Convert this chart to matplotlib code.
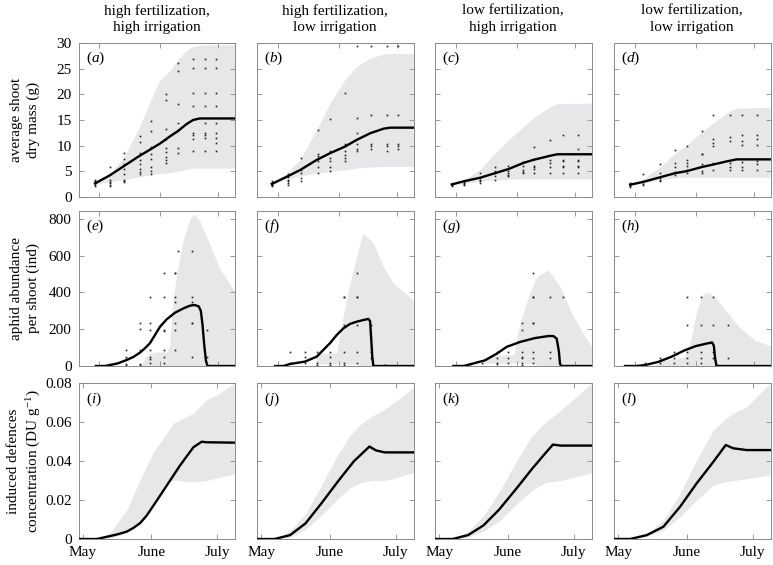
import matplotlib
matplotlib.use('Agg')
import matplotlib.pyplot as plt

plt.rcParams['font.family'] = ['Liberation Serif', 'DejaVu Serif']
plt.rcParams['mathtext.fontset'] = 'custom'
plt.rcParams['mathtext.rm'] = 'Liberation Serif'
plt.rcParams['mathtext.it'] = 'Liberation Serif:italic'

# ---------------------------------------------------------
#                      data (x in days since 1 May)
# ---------------------------------------------------------

col_titles = ['high fertilization,\nhigh irrigation', 'high fertilization,\nlow irrigation',
              'low fertilization,\nhigh irrigation', 'low fertilization,\nlow irrigation']
row_labels = ['average shoot\ndry mass (g)', 'aphid abundance\nper shoot (ind)',
              'induced defences\nconcentration (DU g$^{-1}$)']
letters = ['a', 'b', 'c', 'd', 'e', 'f', 'g', 'h', 'i', 'j', 'k', 'l']
month_names = ['May', 'June', 'July']
month_days = [0, 31, 61]

# --- shoot dry mass ---
a_x = [5.5, 12.3, 18.3, 25, 30.4, 35, 39.5, 43, 47, 50, 53, 56, 69]
a_mean = [2.6, 4.2, 5.9, 7.8, 9.2, 10.4, 11.8, 12.8, 14.2, 15.0, 15.3, 15.3, 15.3]
a_hi = [2.6, 4.6, 7.6, 13.0, 18.5, 22.9, 24.6, 26.8, 28.6, 29.4, 29.6, 29.7, 29.7]
a_lo = [2.4, 2.9, 3.3, 3.8, 4.3, 4.5, 4.7, 5.0, 5.3, 5.6, 5.6, 5.6, 5.6]
a_pts = {5.5: [2.0, 2.3, 2.6, 2.8, 3.0, 3.2],
         12.5: [2.1, 2.3, 2.6, 2.8, 3.2, 4.5, 5.8],
         18.5: [2.9, 3.0, 3.2, 4.5, 5.4, 6.4, 7.4, 8.6],
         26: [4.4, 4.8, 5.4, 6.4, 7.2, 8.5, 10.7, 11.8],
         31: [4.5, 5.1, 5.8, 7.3, 8.4, 9.8, 12.9, 14.9],
         37.5: [6.6, 7.2, 7.8, 8.8, 9.6, 11.3, 13.3, 19.0, 20.0],
         43: [8.6, 9.6, 13.0, 14.5, 18.2, 24.5, 26.2],
         50: [9.0, 11.2, 12.0, 12.5, 17.8, 20.2, 25.2, 27.0],
         55.5: [9.0, 11.5, 12.0, 12.5, 14.5, 17.8, 20.2, 25.2, 27.0],
         60.5: [9.0, 10.5, 11.5, 12.5, 14.5, 17.8, 20.2, 25.2, 27.0]}

b_x = [4.7, 11.5, 17.5, 25.1, 31.1, 37.9, 43.2, 49.3, 55.4, 58.4, 69]
b_mean = [2.5, 3.9, 5.2, 7.2, 8.5, 9.8, 11.1, 12.4, 13.3, 13.5, 13.5]
b_hi = [2.6, 4.6, 7.2, 13.1, 18.3, 22.9, 25.5, 27.1, 27.9, 28.0, 28.0]
b_lo = [2.4, 3.4, 4.0, 4.6, 4.9, 5.3, 5.6, 5.8, 5.9, 5.9, 5.9]
b_pts = {5: [2.0, 2.2, 2.3, 2.5, 2.7, 3.0],
         12: [2.3, 2.6, 3.0, 3.3, 3.8, 4.5],
         18: [3.1, 3.7, 4.7, 5.3, 7.6],
         25.5: [4.6, 5.9, 6.9, 7.9, 8.3, 13.1],
         31: [5.0, 5.9, 6.9, 7.6, 8.9, 15.1],
         38: [6.9, 7.6, 8.2, 8.9, 10.4, 20.3],
         43.5: [8.9, 9.4, 10.4, 12.4, 15.4, 29.5],
         49.6: [9.4, 10.0, 10.4, 16.0, 29.5],
         56.8: [9.0, 10.0, 10.4, 16.0, 29.5],
         62.1: [9.4, 10.0, 10.4, 16.0, 29.5]}

c_x = [5.6, 10.9, 18.4, 25.2, 31.3, 38.1, 42.6, 50.2, 53.5, 69]
c_mean = [2.4, 3.0, 3.7, 4.6, 5.4, 6.6, 7.2, 8.0, 8.3, 8.3]
c_hi = [2.5, 3.3, 5.3, 8.5, 11.1, 13.7, 15.4, 17.6, 18.2, 18.3]
c_lo = [2.3, 2.6, 3.0, 3.3, 3.4, 3.5, 3.5, 3.5, 3.5, 3.5]
c_pts = {5.6: [2.0, 2.2, 2.4, 2.5],
         11: [2.3, 2.5, 2.7, 2.8],
         18.4: [2.7, 3.0, 3.3, 3.7, 4.6],
         25.2: [3.3, 4.0, 4.6, 5.0, 5.9],
         31.3: [4.0, 4.3, 4.6, 5.0, 6.0],
         38.1: [4.6, 4.9, 5.3, 6.0, 6.7],
         43: [4.6, 5.5, 5.9, 6.1, 9.8],
         50.2: [4.6, 5.9, 6.6, 7.2, 11.1],
         56.2: [4.6, 5.9, 6.1, 6.9, 7.2, 12.1],
         63: [4.6, 5.9, 6.1, 6.9, 7.2, 9.3, 12.1]}

d_x = [5.3, 11.3, 18.9, 25.7, 31, 37.8, 43.1, 49.1, 53.6, 68.8]
d_mean = [2.35, 2.9, 3.8, 4.6, 5.0, 5.8, 6.3, 6.9, 7.3, 7.3]
d_hi = [2.4, 3.5, 5.8, 8.5, 10.1, 12.7, 14.4, 16.4, 17.3, 17.5]
d_lo = [2.2, 2.7, 3.3, 3.7, 3.8, 3.8, 3.8, 3.8, 3.8, 3.8]
d_pts = {5.3: [1.9, 2.1, 2.3, 2.5, 2.7],
         11.3: [2.3, 2.5, 2.8, 4.4],
         18.9: [3.0, 3.3, 3.7, 4.7, 6.4],
         25.7: [4.3, 4.8, 5.9, 6.6, 9.1],
         31: [4.6, 5.3, 6.1, 6.6, 7.2, 10.0],
         37.8: [4.6, 5.0, 6.4, 8.4, 8.4, 12.8],
         43.1: [5.3, 6.6, 10.0, 10.5, 11.2, 16.0],
         50.6: [5.3, 5.9, 6.6, 10.9, 11.7, 16.0],
         55.9: [5.3, 5.9, 6.8, 10.2, 10.9, 12.1, 16.0],
         62.7: [5.3, 6.3, 6.9, 10.2, 11.2, 12.1, 16.0]}

# --- aphid abundance ---
e_x = [5.9, 10, 12.3, 16, 19.9, 23, 25.9, 28, 30.4, 32.5, 35, 38, 41.8, 45.5, 48.5, 50.5,
       52.5, 53.5, 54.3, 55.0, 55.8, 56.5, 69]
e_mean = [0, 0, 5, 15, 33, 50, 73, 95, 124, 165, 214, 254, 290, 313, 328, 332,
          325, 300, 220, 120, 30, 0, 0]
e_bx = [5.9, 26, 28, 30, 32, 36, 38, 39.5, 40.5, 42.6, 45.5, 48.6, 50.5, 53, 57.6, 62, 68.7]
e_hi = [0, 0, 40, 65, 75, 78, 75, 120, 323, 504, 685, 803, 828, 790, 660, 530, 410]
e_lo = [0] * len(e_bx)
e_pts = {12.3: [5, 10],
         19.5: [5, 10, 40, 51, 87],
         26: [5, 10, 87, 200, 232],
         30.4: [15, 40, 51, 87, 196, 232, 377],
         37: [15, 51, 87, 190, 196, 377, 504],
         42: [87, 196, 232, 350, 377, 504, 504],
         43: [626],
         49.5: [51, 232, 232, 350, 377, 626],
         56.5: [51, 196]}

f_x = [6.2, 10, 13, 19.8, 25.1, 31.1, 34.2, 37.2, 40.2, 43.2, 46.2, 48.5, 49.3, 49.8, 50.3, 50.8, 69]
f_mean = [0, 0, 11, 24, 51, 124, 169, 205, 229, 241, 250, 256, 245, 150, 50, 0, 0]
f_bx = [6.2, 24, 25.5, 30, 34, 35.7, 37.9, 40.2, 43.2, 44.5, 46.2, 50.8, 55.3, 59.8, 68.9]
f_hi = [0, 0, 65, 70, 72, 178, 323, 450, 595, 660, 722, 668, 541, 450, 359]
f_lo = [0, 0, 10, 10, 10, 10, 10, 10, 10, 0, 0, 0, 0, 0, 0]
f_pts = {13: [15, 78],
         19.8: [15, 51, 78],
         25.1: [6, 15, 78],
         31: [6, 15, 51, 78],
         37.5: [6, 15, 78, 225, 377, 377],
         43.2: [15, 78, 225, 377, 377, 504],
         49.5: [42, 78, 225],
         56: [6, 6]}

g_x = [6.3, 11, 13.9, 20.7, 26, 30.5, 36.6, 43.4, 49.4, 51.7, 53.2, 54.2, 54.7, 55.2, 69]
g_mean = [0, 0, 9, 31, 67, 104, 131, 152, 163, 163, 149, 80, 13, 0, 0]
g_bx = [6.3, 19, 20.7, 26, 30, 34, 35.1, 36.6, 39.9, 43.4, 44.5, 49.4, 54.7, 60.8, 65.3, 69]
g_hi = [0, 0, 50, 58, 60, 62, 160, 232, 359, 468, 490, 522, 432, 268, 177, 104]
g_lo = [0, 0, 15, 15, 15, 15, 15, 15, 15, 15, 0, 0, 0, 0, 0, 0]
g_pts = {13.9: [11],
         19.3: [15],
         26: [11, 15, 42, 78],
         31: [15, 42, 78],
         37.5: [6, 15, 42, 51, 78, 196, 232],
         42.5: [15, 42, 78, 232, 232, 377, 377, 504],
         50: [42, 78, 377],
         56: [377]}

h_x = [3, 8, 12, 18, 24, 30, 35, 40, 42.5, 43.3, 43.9, 44.5, 69]
h_mean = [0, 0, 5, 22, 50, 85, 108, 122, 128, 110, 40, 0, 0]
h_bx = [3, 16, 20, 26, 30, 33, 35.5, 38.5, 41, 44, 48, 55, 62, 69]
h_hi = [0, 0, 30, 40, 50, 150, 300, 395, 400, 375, 310, 210, 140, 110]
h_lo = [0] * len(h_bx)
h_pts = {12: [6, 15],
         19: [15, 42],
         25: [15, 42, 78],
         31: [15, 42, 78, 225, 375],
         37.5: [15, 42, 78, 225, 375],
         43: [42, 78, 225, 375],
         49.5: [42, 225]}

# --- induced defences ---
i_x = [-2, 6.3, 12.3, 16, 19.9, 22.9, 25.9, 28.9, 31.9, 38, 44, 50.1, 53.9, 56, 68.7]
i_mean = [0, 0, 0.0015, 0.0025, 0.0038, 0.0057, 0.0081, 0.012, 0.017, 0.0274, 0.0377, 0.0471,
          0.0500, 0.0497, 0.0495]
i_bx = [6.3, 12.3, 19.9, 25.9, 31.9, 38, 41, 44, 47, 50.1, 56, 62, 68.7]
i_hi = [0, 0.003, 0.015, 0.0303, 0.0445, 0.0543, 0.0595, 0.0612, 0.0628, 0.0647, 0.0714, 0.0748, 0.08]
i_lo = [0, 0.0005, 0.003, 0.0081, 0.019, 0.029, 0.0303, 0.030, 0.0295, 0.0293, 0.030, 0.0317, 0.0334]

j_x = [-2, 6, 13, 20, 27, 35, 42, 49, 52, 56, 69]
j_mean = [0, 0, 0.002, 0.008, 0.018, 0.030, 0.040, 0.0475, 0.0455, 0.0445, 0.0445]
j_bx = [6, 13, 20, 27, 35, 40, 45, 50, 55, 60, 65, 69]
j_hi = [0, 0.004, 0.013, 0.027, 0.044, 0.053, 0.059, 0.063, 0.066, 0.070, 0.074, 0.078]
j_lo = [0, 0.001, 0.005, 0.012, 0.021, 0.026, 0.029, 0.030, 0.030, 0.031, 0.033, 0.034]

k_x = [-2, 6, 13, 20, 27, 35, 42, 48, 51.5, 55, 69]
k_mean = [0, 0, 0.002, 0.007, 0.015, 0.026, 0.036, 0.044, 0.0485, 0.048, 0.048]
k_bx = [6, 13, 20, 27, 35, 42, 48, 55, 62, 69]
k_hi = [0, 0.004, 0.012, 0.024, 0.040, 0.053, 0.060, 0.066, 0.073, 0.080]
k_lo = [0, 0.001, 0.004, 0.009, 0.018, 0.025, 0.029, 0.030, 0.032, 0.034]

l_x = [-2, 5.3, 12.9, 20.4, 28, 35.5, 43.1, 48.7, 52.1, 58.2, 68.8]
l_mean = [0, 0, 0.002, 0.0063, 0.0166, 0.0286, 0.0397, 0.0483, 0.0466, 0.0457, 0.0457]
l_hi = [0, 0, 0.0029, 0.0097, 0.0234, 0.0406, 0.056, 0.062, 0.0645, 0.068, 0.08]
l_lo = [0, 0, 0.0012, 0.0046, 0.0114, 0.02, 0.0277, 0.0294, 0.030, 0.031, 0.0329]

panels = [
    (a_x, a_mean, a_x, a_lo, a_hi, a_pts), (b_x, b_mean, b_x, b_lo, b_hi, b_pts),
    (c_x, c_mean, c_x, c_lo, c_hi, c_pts), (d_x, d_mean, d_x, d_lo, d_hi, d_pts),
    (e_x, e_mean, e_bx, e_lo, e_hi, e_pts), (f_x, f_mean, f_bx, f_lo, f_hi, f_pts),
    (g_x, g_mean, g_bx, g_lo, g_hi, g_pts), (h_x, h_mean, h_bx, h_lo, h_hi, h_pts),
    (i_x, i_mean, i_bx, i_lo, i_hi, None), (j_x, j_mean, j_bx, j_lo, j_hi, None),
    (k_x, k_mean, k_bx, k_lo, k_hi, None), (l_x, l_mean, l_x, l_lo, l_hi, None),
]

ylims = [(0, 30), (0, 845), (0, 0.08)]
yticks = [[0, 5, 10, 15, 20, 25, 30], [0, 200, 400, 600, 800], [0, 0.02, 0.04, 0.06, 0.08]]
yticklabels = [['0', '5', '10', '15', '20', '25', '30'], ['0', '200', '400', '600', '800'],
               ['0', '0.02', '0.04', '0.06', '0.08']]
top_xticks = [7.5, 35, 61.5]

# ---------------------------------------------------------
#                      plot
# ---------------------------------------------------------

W, H = 773, 565
fig = plt.figure(figsize=(W / 100, H / 100), dpi=100)
col_left = [78.5, 257, 435, 614]
row_top = [43.3, 210.7, 383.3]
row_bot = [196.7, 366, 539]
band_color = '#e6e7e9'
spine_color = '#8a8a8a'

for idx, (mx, my, bx, lo, hi, pts) in enumerate(panels):
    r, c = divmod(idx, 4)
    ax = fig.add_axes([col_left[c] / W, 1 - row_bot[r] / H, 156.5 / W, (row_bot[r] - row_top[r]) / H])
    ax.fill_between(bx, lo, hi, color=band_color, lw=0, zorder=1)
    if pts is not None:
        for day, vals in pts.items():
            ax.plot([day] * len(vals), vals, 's', ms=1.2, mew=0, color='#222222', zorder=2)
    ax.plot(mx, my, color='k', lw=1.7, zorder=3, solid_joinstyle='round')
    ax.set_xlim(-2, 69)
    ax.set_ylim(*ylims[r])
    ax.set_yticks(yticks[r])
    if r < 2:
        ax.set_xticks(top_xticks)
    else:
        ax.set_xticks(month_days)
    if r == 2:
        ax.set_xticklabels(month_names)
    else:
        ax.set_xticklabels([])
    if c == 0:
        ax.set_yticklabels(yticklabels[r])
    else:
        ax.set_yticklabels([])
    ax.tick_params(direction='in', top=True, right=True, length=3.5, width=0.6,
                   color=spine_color, labelsize=11, pad=5)
    for s in ax.spines.values():
        s.set_color(spine_color)
        s.set_linewidth(0.7)
    ax.text(0.045, 0.9, f'(${letters[idx]}$)', transform=ax.transAxes,
            ha='left', va='center', fontsize=11)

for c, t in enumerate(col_titles):
    fig.text((col_left[c] + 78) / W, 1 - 19 / H, t, ha='center', va='center', fontsize=11,
             linespacing=1.3)

for r, t in enumerate(row_labels):
    fig.text(25 / W, 1 - (row_top[r] + row_bot[r]) / 2 / H, t, rotation=90, ha='center',
             va='center', fontsize=11, multialignment='center', linespacing=1.3)

fig.savefig('out.png', dpi=100)
